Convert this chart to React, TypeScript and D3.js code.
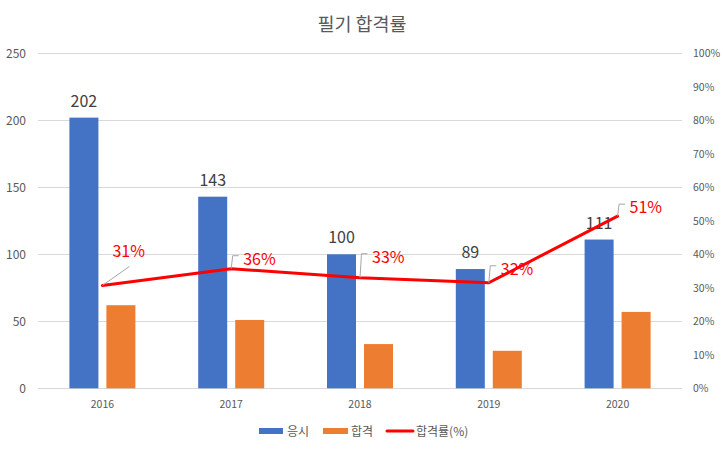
import * as d3 from "d3";
import { useEffect, useRef } from "react";

const years = ["2016", "2017", "2018", "2019", "2020"];
const applicants = [202, 143, 100, 89, 111];
const passed = [62, 51, 33, 28, 57];
const passRate = [0.307, 0.357, 0.33, 0.315, 0.514];
const leftTicks = [0, 50, 100, 150, 200, 250];
const rightTicks = [0, 0.1, 0.2, 0.3, 0.4, 0.5, 0.6, 0.7, 0.8, 0.9, 1];

const W = 723;
const H = 451;
const FONT = "'Noto Sans CJK KR', 'Noto Sans', sans-serif";

// where each rate label sits relative to its point (dx, baseline dy), and leader style
const rateLabelPos = [
    { dx: 10, dy: -28, diag: true },
    { dx: 12, dy: -4, diag: false },
    { dx: 12, dy: -15, diag: false },
    { dx: 12, dy: -8, diag: false },
    { dx: 12, dy: -3, diag: false },
];

export default function App() {
    const svgRef = useRef<SVGSVGElement | null>(null);

    useEffect(() => {
        document.body.style.margin = "0";
        if (!svgRef.current) return;
        const svg = d3.select(svgRef.current);
        svg.selectAll("*").remove();

        const left = 38, right = 682, top = 53.3, bottom = 388.3;

        const x0 = d3.scaleBand().domain(years).range([left, right]);
        const x1 = d3.scaleBand()
            .domain(["a", "p"])
            .range([0, x0.bandwidth()])
            .paddingInner(8 / 37)
            .paddingOuter(0.849);
        const y = d3.scaleLinear().domain([0, 250]).range([bottom, top]);
        const yR = d3.scaleLinear().domain([0, 1]).range([bottom, top]);

        // title
        svg.append("text")
            .attr("x", 362)
            .attr("y", 31)
            .attr("text-anchor", "middle")
            .style("font-size", "18.5px")
            .style("fill", "#595959")
            .style("font-family", FONT)
            .text("필기 합격률");

        // gridlines
        svg.append("g")
            .selectAll("line")
            .data(leftTicks)
            .enter()
            .append("line")
            .attr("x1", left)
            .attr("x2", right)
            .attr("y1", d => Math.round(y(d)) + 0.5)
            .attr("y2", d => Math.round(y(d)) + 0.5)
            .attr("stroke", "#d9d9d9")
            .attr("stroke-width", 1);

        // left axis labels
        svg.append("g")
            .selectAll("text")
            .data(leftTicks)
            .enter()
            .append("text")
            .attr("x", 26)
            .attr("y", d => y(d) + 4.5)
            .attr("text-anchor", "end")
            .style("font-size", "12px")
            .style("fill", "#595959")
            .style("font-family", FONT)
            .text(d => d.toString());

        // right axis labels
        svg.append("g")
            .selectAll("text")
            .data(rightTicks)
            .enter()
            .append("text")
            .attr("x", 693)
            .attr("y", d => yR(d) + 4)
            .attr("text-anchor", "start")
            .style("font-size", "10.5px")
            .style("fill", "#595959")
            .style("font-family", FONT)
            .text(d => `${Math.round(d * 100)}%`);

        // x labels
        svg.append("g")
            .selectAll("text")
            .data(years)
            .enter()
            .append("text")
            .attr("x", d => (x0(d) || 0) + x0.bandwidth() / 2)
            .attr("y", 408)
            .attr("text-anchor", "middle")
            .style("font-size", "10.5px")
            .style("fill", "#595959")
            .style("font-family", FONT)
            .text(d => d);

        // bars
        const groups = svg.append("g")
            .selectAll("g")
            .data(years)
            .enter()
            .append("g")
            .attr("transform", d => `translate(${x0(d)},0)`);

        groups.append("rect")
            .attr("x", x1("a") || 0)
            .attr("width", x1.bandwidth())
            .attr("y", (d, i) => y(applicants[i]))
            .attr("height", (d, i) => bottom - y(applicants[i]))
            .attr("fill", "#4472c4");

        groups.append("rect")
            .attr("x", x1("p") || 0)
            .attr("width", x1.bandwidth())
            .attr("y", (d, i) => y(passed[i]))
            .attr("height", (d, i) => bottom - y(passed[i]))
            .attr("fill", "#ed7d31");

        // value labels on applicant bars
        groups.append("text")
            .attr("x", (x1("a") || 0) + x1.bandwidth() / 2)
            .attr("y", (d, i) => y(applicants[i]) - 11)
            .attr("text-anchor", "middle")
            .style("font-size", "16px")
            .style("fill", "#404040")
            .style("font-family", FONT)
            .text((d, i) => applicants[i].toString());

        // pass rate line
        const cx = (d: string) => (x0(d) || 0) + x0.bandwidth() / 2;
        const line = d3.line<number>()
            .x((d, i) => cx(years[i]))
            .y(d => yR(d));

        svg.append("path")
            .datum(passRate)
            .attr("d", line)
            .attr("fill", "none")
            .attr("stroke", "#ff0000")
            .attr("stroke-width", 3)
            .attr("stroke-linejoin", "round")
            .attr("stroke-linecap", "round");

        // rate labels + leader lines
        passRate.forEach((r, i) => {
            const px = cx(years[i]);
            const py = yR(r);
            const pos = rateLabelPos[i];
            const tx = px + pos.dx;
            const ty = py + pos.dy;
            const ly = ty - 9;
            const d = pos.diag
                ? `M${px},${py}L${px + 27},${py - 19}`
                : `M${px},${py}L${px + 1.5},${ly}L${px + 7.5},${ly}`;
            svg.append("path")
                .attr("d", d)
                .attr("fill", "none")
                .attr("stroke", "#a6a6a6")
                .attr("stroke-width", 1);
            svg.append("text")
                .attr("x", tx)
                .attr("y", ty)
                .style("font-size", "16px")
                .style("fill", "#ff0000")
                .style("font-family", FONT)
                .text(`${Math.round(r * 100)}%`);
        });

        // legend
        const legend = svg.append("g").style("font-family", FONT);
        legend.append("rect").attr("x", 259).attr("y", 428).attr("width", 24).attr("height", 6).attr("fill", "#4472c4");
        legend.append("text").attr("x", 287).attr("y", 436).style("font-size", "12px").style("fill", "#595959").text("응시");
        legend.append("rect").attr("x", 323).attr("y", 428).attr("width", 25).attr("height", 6).attr("fill", "#ed7d31");
        legend.append("text").attr("x", 351).attr("y", 436).style("font-size", "12px").style("fill", "#595959").text("합격");
        legend.append("line").attr("x1", 387).attr("x2", 413).attr("y1", 431).attr("y2", 431)
            .attr("stroke", "#ff0000").attr("stroke-width", 3).attr("stroke-linecap", "round");
        legend.append("text").attr("x", 416).attr("y", 436).style("font-size", "12px").style("fill", "#595959").text("합격률(%)");
    }, []);

    return <svg ref={svgRef} width={W} height={H} style={{ display: "block", background: "#fff" }} />;
}
